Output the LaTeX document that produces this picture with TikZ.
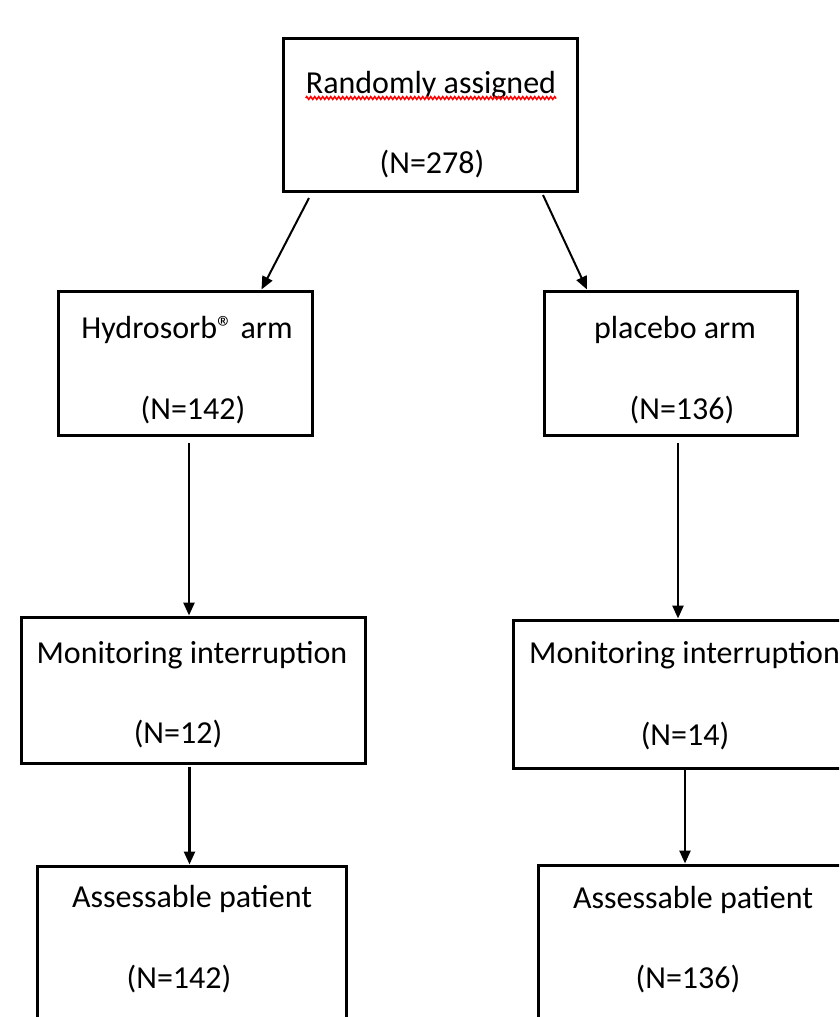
\documentclass[tikz,border=0pt]{standalone}
\usepackage{fontspec}
\setmainfont{Carlito}
\usetikzlibrary{arrows.meta,decorations.pathmorphing}
\begin{document}
\begin{tikzpicture}[x=1pt,y=-1pt,
  box/.style={draw=black,line width=3pt,rectangle,inner sep=0pt},
  lbl/.style={anchor=base,inner sep=0pt,font=\fontsize{32}{38}\selectfont},
  varr/.style={-{Triangle[length=13pt,width=11pt]},line width=2.5pt},
  darr/.style={-{Triangle[length=13pt,width=11pt]},line width=2pt},
  squig/.style={draw=red,line width=1.5pt,decorate,decoration={zigzag,amplitude=1.4pt,segment length=4pt}}]
\useasboundingbox (0,0) rectangle (839,1017);
\clip (0,0) rectangle (839,1017);
% boxes
\node[box,minimum width=294pt,minimum height=153pt] (top)  at (430,114.5) {};
\node[box,minimum width=254pt,minimum height=144pt] (hyd)  at (185,363) {};
\node[box,minimum width=253pt,minimum height=144pt] (plc)  at (670.5,363) {};
\node[box,minimum width=344pt,minimum height=146pt] (monL) at (193,690) {};
\node[box,minimum width=347pt,minimum height=148pt] (monR) at (686.5,694) {};
\node[box,minimum width=309pt,minimum height=164pt] (assL) at (191.5,948) {};
\node[box,minimum width=322pt,minimum height=165pt] (assR) at (699,947.5) {};
% labels
\node[lbl] (t1) at (431,93) {Randomly assigned};
\node[lbl] (t2) at (432,173) {(N=278)};
\node[lbl] (h1) at (187,338) {Hydrosorb® arm};
\node[lbl] (h2) at (193,419) {(N=142)};
\node[lbl] (p1) at (675,338) {placebo arm};
\node[lbl] (p2) at (682,419) {(N=136)};
\node[lbl] (m1) at (192,663) {Monitoring interruption};
\node[lbl] (m2) at (178,743) {(N=12)};
\node[lbl,anchor=base west] (r1) at (529,663) {Monitoring interruption};
\node[lbl] (r2) at (685,745) {(N=14)};
\node[lbl] (a1) at (192,907) {Assessable patient};
\node[lbl] (a2) at (179,988) {(N=142)};
\node[lbl] (b1) at (693,908) {Assessable patient};
\node[lbl] (b2) at (688,988) {(N=136)};
% spell-check squiggle
\path[squig] ([yshift=-5pt]t1.base west) -- ([yshift=-5pt]t1.base east);
% connectors
\draw[darr] ([xshift=27.5pt,yshift=-5.5pt]top.south west) -- ([xshift=205pt]hyd.north west);
\draw[darr] ([xshift=-35.5pt,yshift=-2.5pt]top.south east) -- ([xshift=44.5pt]plc.north west);
\draw[varr,shorten <=6.5pt] ([xshift=4pt]hyd.south) -- ([xshift=-4pt]monL.north);
\draw[varr,shorten <=6.5pt] ([xshift=7.5pt]plc.south) -- ([xshift=-8.5pt]monR.north);
\draw[varr,shorten <=2pt] ([xshift=-3.5pt]monL.south) -- ([xshift=-2pt]assL.north);
\draw[varr] ([xshift=-1.5pt]monR.south) -- ([xshift=-14pt]assR.north);
\end{tikzpicture}
\end{document}
